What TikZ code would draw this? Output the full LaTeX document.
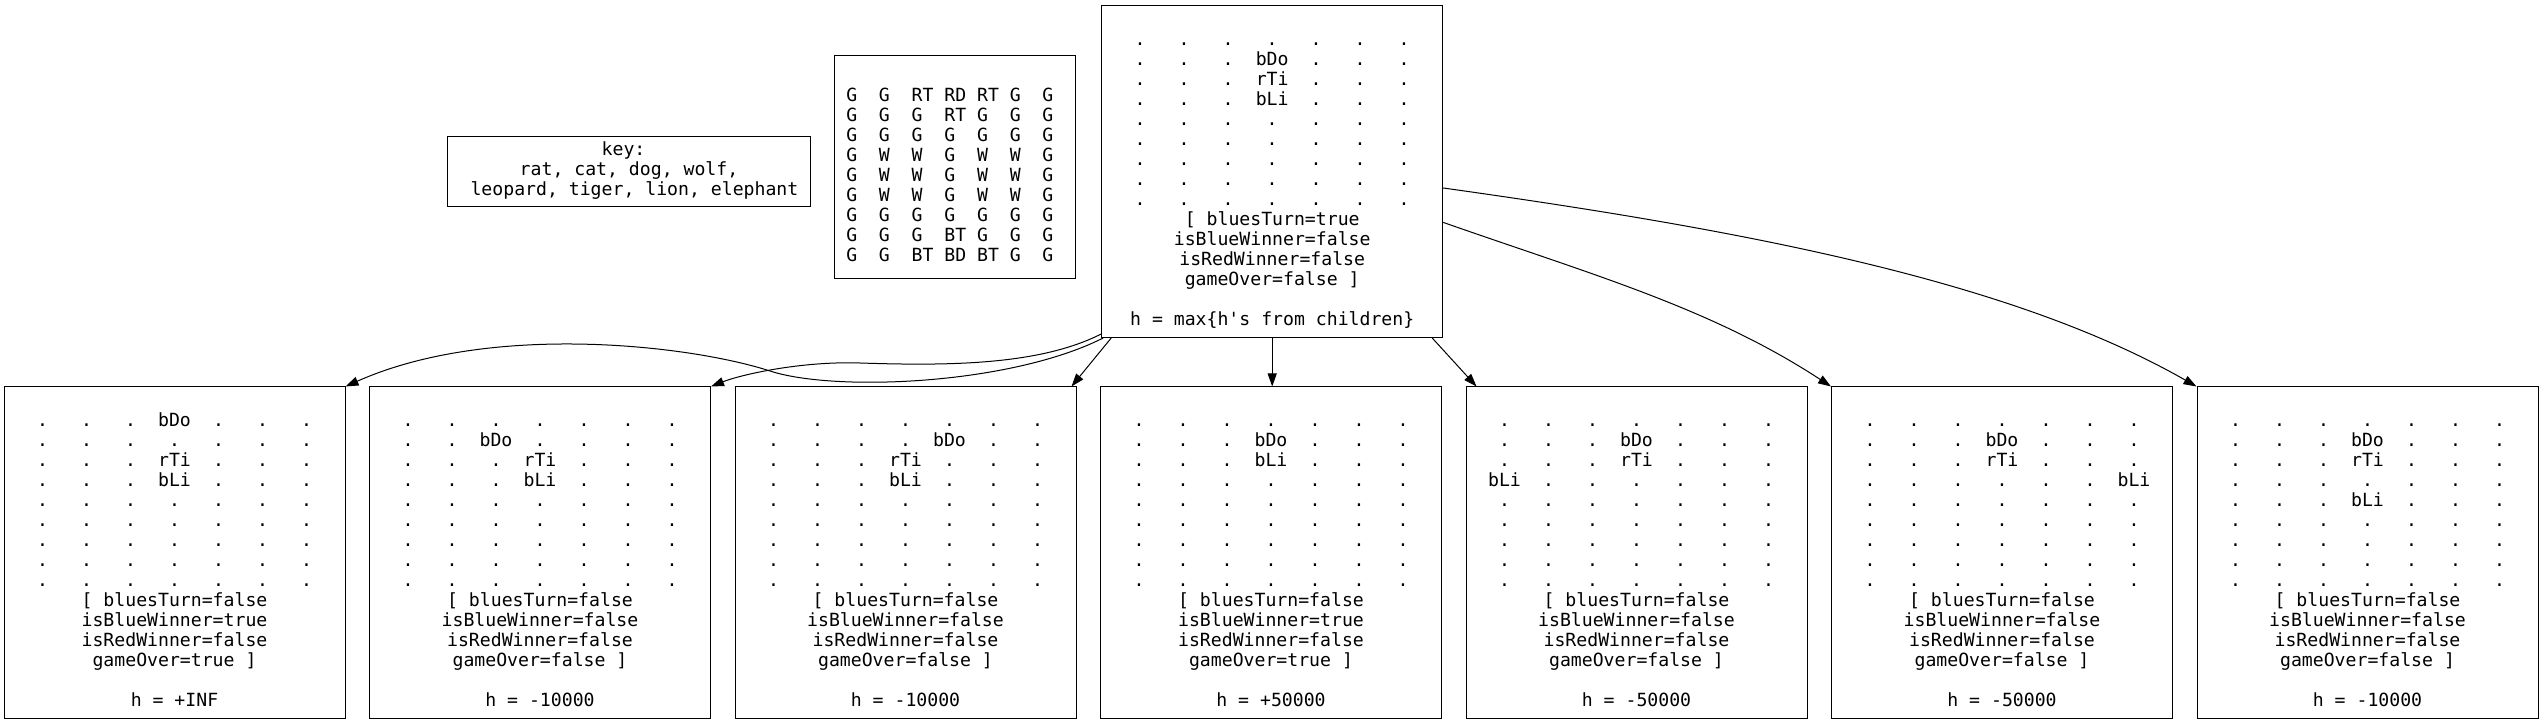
\documentclass[tikz,border=0pt]{standalone}
\usepackage{fontspec}
\newfontfamily\gvmono{DejaVu Sans Mono}
\usetikzlibrary{arrows.meta}
% one row of a game board: seven cells
\newcommand{\brow}[7]{\makebox[44pt]{#1}\makebox[44pt]{#2}\makebox[44pt]{#3}\makebox[44pt]{#4}\makebox[44pt]{#5}\makebox[44pt]{#6}\makebox[44pt]{#7}}
\newcommand{\drow}{\brow{.}{.}{.}{.}{.}{.}{.}}
% one row of the terrain grid
\newcommand{\gcell}[1]{\makebox[32.7pt][l]{#1}}
\newcommand{\gridrow}[7]{\gcell{#1}\gcell{#2}\gcell{#3}\gcell{#4}\gcell{#5}\gcell{#6}\makebox[21.8pt][l]{#7}}
\tikzset{
  box/.style={draw, line width=1pt, inner sep=0pt, align=center,
    font=\gvmono\fontsize{18.15}{20}\selectfont},
  state/.style={box, minimum width=341pt, minimum height=332pt},
  link/.style={line width=1pt, -{Triangle[length=13pt,width=9pt]}}
}
\begin{document}
\begin{tikzpicture}[x=1pt,y=1pt]
\useasboundingbox (0,0) rectangle (2544,725);
% key and terrain
\node[box, minimum width=363.4pt, minimum height=70pt] (key) at (629,553.3)
  {key:\hphantom{0}\strut\\rat, cat, dog, wolf,\\\hphantom{0}leopard, tiger, lion, elephant\strut};
\node[box, minimum width=240.7pt, minimum height=223pt] (terrain) at (955.3,557.5) {\strut\\
  \gridrow{G}{G}{RT}{RD}{RT}{G}{G}\\
  \gridrow{G}{G}{G}{RT}{G}{G}{G}\\
  \gridrow{G}{G}{G}{G}{G}{G}{G}\\
  \gridrow{G}{W}{W}{G}{W}{W}{G}\\
  \gridrow{G}{W}{W}{G}{W}{W}{G}\\
  \gridrow{G}{W}{W}{G}{W}{W}{G}\\
  \gridrow{G}{G}{G}{G}{G}{G}{G}\\
  \gridrow{G}{G}{G}{BT}{G}{G}{G}\\
  \gridrow{G}{G}{BT}{BD}{BT}{G}{G}\strut};
% root state
\node[state] (root) at (1272.2,553.5) {\strut\\
  \drow\\
  \brow{.}{.}{.}{bDo}{.}{.}{.}\\
  \brow{.}{.}{.}{rTi}{.}{.}{.}\\
  \brow{.}{.}{.}{bLi}{.}{.}{.}\\
  \drow\\ \drow\\ \drow\\ \drow\\ \drow\\
  {[} bluesTurn=true\\
  isBlueWinner=false\\
  isRedWinner=false\\
  gameOver=false ]\\
  \strut\\
  h = max\{h's from children\}\strut};
% children
\node[state] (c1) at (174.5,172) {\strut\\
  \brow{.}{.}{.}{bDo}{.}{.}{.}\\
  \drow\\
  \brow{.}{.}{.}{rTi}{.}{.}{.}\\
  \brow{.}{.}{.}{bLi}{.}{.}{.}\\
  \drow\\ \drow\\ \drow\\ \drow\\ \drow\\
  {[} bluesTurn=false\\
  isBlueWinner=true\\
  isRedWinner=false\\
  gameOver=true ]\\
  \strut\\
  h = +INF\strut};
\node[state] (c2) at (540,172) {\strut\\
  \drow\\
  \brow{.}{.}{bDo}{.}{.}{.}{.}\\
  \brow{.}{.}{.}{rTi}{.}{.}{.}\\
  \brow{.}{.}{.}{bLi}{.}{.}{.}\\
  \drow\\ \drow\\ \drow\\ \drow\\ \drow\\
  {[} bluesTurn=false\\
  isBlueWinner=false\\
  isRedWinner=false\\
  gameOver=false ]\\
  \strut\\
  h = -10000\strut};
\node[state] (c3) at (905.5,172) {\strut\\
  \drow\\
  \brow{.}{.}{.}{.}{bDo}{.}{.}\\
  \brow{.}{.}{.}{rTi}{.}{.}{.}\\
  \brow{.}{.}{.}{bLi}{.}{.}{.}\\
  \drow\\ \drow\\ \drow\\ \drow\\ \drow\\
  {[} bluesTurn=false\\
  isBlueWinner=false\\
  isRedWinner=false\\
  gameOver=false ]\\
  \strut\\
  h = -10000\strut};
\node[state] (c4) at (1271,172) {\strut\\
  \drow\\
  \brow{.}{.}{.}{bDo}{.}{.}{.}\\
  \brow{.}{.}{.}{bLi}{.}{.}{.}\\
  \drow\\ \drow\\ \drow\\ \drow\\ \drow\\ \drow\\
  {[} bluesTurn=false\\
  isBlueWinner=true\\
  isRedWinner=false\\
  gameOver=true ]\\
  \strut\\
  h = +50000\strut};
\node[state] (c5) at (1636.5,172) {\strut\\
  \drow\\
  \brow{.}{.}{.}{bDo}{.}{.}{.}\\
  \brow{.}{.}{.}{rTi}{.}{.}{.}\\
  \brow{bLi}{.}{.}{.}{.}{.}{.}\\
  \drow\\ \drow\\ \drow\\ \drow\\ \drow\\
  {[} bluesTurn=false\\
  isBlueWinner=false\\
  isRedWinner=false\\
  gameOver=false ]\\
  \strut\\
  h = -50000\strut};
\node[state] (c6) at (2002,172) {\strut\\
  \drow\\
  \brow{.}{.}{.}{bDo}{.}{.}{.}\\
  \brow{.}{.}{.}{rTi}{.}{.}{.}\\
  \brow{.}{.}{.}{.}{.}{.}{bLi}\\
  \drow\\ \drow\\ \drow\\ \drow\\ \drow\\
  {[} bluesTurn=false\\
  isBlueWinner=false\\
  isRedWinner=false\\
  gameOver=false ]\\
  \strut\\
  h = -50000\strut};
\node[state] (c7) at (2367.5,172) {\strut\\
  \drow\\
  \brow{.}{.}{.}{bDo}{.}{.}{.}\\
  \brow{.}{.}{.}{rTi}{.}{.}{.}\\
  \drow\\
  \brow{.}{.}{.}{bLi}{.}{.}{.}\\
  \drow\\ \drow\\ \drow\\ \drow\\
  {[} bluesTurn=false\\
  isBlueWinner=false\\
  isRedWinner=false\\
  gameOver=false ]\\
  \strut\\
  h = -10000\strut};
% moves
\draw[link] ([xshift=2pt]root.south west) .. controls (1010,340) and (834,333) .. (770,354)
  .. controls (690,380) and (490,403) .. (c1.north east);
\draw[link] ([yshift=4pt]root.south west) .. controls (1040,360) and (950,359) .. (860,362)
  .. controls (800,364) and (740,350) .. (c2.north east);
\draw[link] ([xshift=10pt]root.south west) -- ([xshift=-5pt]c3.north east);
\draw[link] (root.south) -- (root.south |- c4.north);
\draw[link] ([xshift=-11pt]root.south east) -- ([xshift=11pt]c5.north west);
\draw[link] ([yshift=115.6pt]root.south east) .. controls (1593,450) and (1711,417) .. (c6.north west);
\draw[link] ([yshift=150pt]root.south east) .. controls (1743,495) and (2010,445) .. (c7.north west);
\end{tikzpicture}
\end{document}
